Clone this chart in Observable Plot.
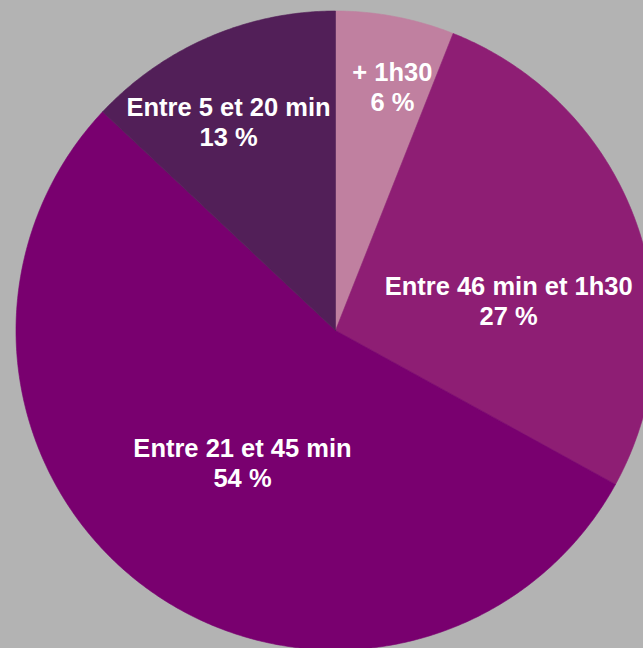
<!DOCTYPE html>
<html>
<head>
<meta charset="utf-8">
<script src="https://cdn.jsdelivr.net/npm/d3@7"></script>
<script src="https://cdn.jsdelivr.net/npm/@observablehq/plot@0.6"></script>
<style>
  html, body { margin: 0; padding: 0; background: #b3b3b3; overflow: hidden; }
  svg { display: block; }
</style>
</head>
<body>
<div id="chart"></div>
<script>
// Data (clockwise from 12 o'clock)
const categories = ["+ 1h30", "Entre 46 min et 1h30", "Entre 21 et 45 min", "Entre 5 et 20 min"];
const shares = [6, 27, 54, 13];
const labels = ["6 %", "27 %", "54 %", "13 %"];

// Styling (kept separate from data)
const sliceColors = ["#c080a0", "#8e1e74", "#79006f", "#521f58"];
// label placement: [angle offset in degrees from the slice mid-angle, radius fraction]
const labelPlacement = [[2.3, 0.785], [10, 0.55], [-0.8, 0.505], [-3.7, 0.735]];

const pie = d3.pie().sort(null).value(d => d.value)(
  categories.map((c, i) => ({ category: c, value: shares[i], label: labels[i], idx: i }))
);

// Outline of each slice, in unit-circle coordinates (y up, angle clockwise from top)
const outline = [];
for (const a of pie) {
  const cat = a.data.category;
  outline.push({ category: cat, x: 0, y: 0 });
  const steps = Math.max(2, Math.ceil((a.endAngle - a.startAngle) / (Math.PI / 360)));
  for (let k = 0; k <= steps; k++) {
    const t = a.startAngle + (a.endAngle - a.startAngle) * k / steps;
    outline.push({ category: cat, x: Math.sin(t), y: Math.cos(t) });
  }
  outline.push({ category: cat, x: 0, y: 0 });
}

const labelData = pie.map((a, i) => {
  const [dAng, rf] = labelPlacement[i];
  const t = (a.startAngle + a.endAngle) / 2 + dAng * Math.PI / 180;
  return { text: a.data.category + "\n" + a.data.label, x: rf * Math.sin(t), y: rf * Math.cos(t) };
});

const cx = 335, cy = 330, R = 319.5;

const chart = Plot.plot({
  width: 643,
  height: 648,
  margin: 0,
  style: { background: "#b3b3b3", overflow: "visible" },
  x: { domain: [-1, 1], range: [cx - R, cx + R], axis: null },
  y: { domain: [-1, 1], range: [cy + R, cy - R], axis: null },
  color: { domain: categories, range: sliceColors },
  marks: [
    Plot.line(outline, {
      x: "x", y: "y", z: "category",
      fill: "category", stroke: "category", strokeWidth: 0.6,
      curve: "linear"
    }),
    Plot.text(labelData, {
      x: "x", y: "y", text: "text",
      fill: "white",
      fontSize: 25.5,
      fontWeight: "bold",
      fontFamily: "Liberation Sans, Arial, sans-serif",
      lineHeight: 1.165,
      textAnchor: "middle"
    })
  ]
});

document.getElementById("chart").appendChild(chart);
</script>
</body>
</html>
